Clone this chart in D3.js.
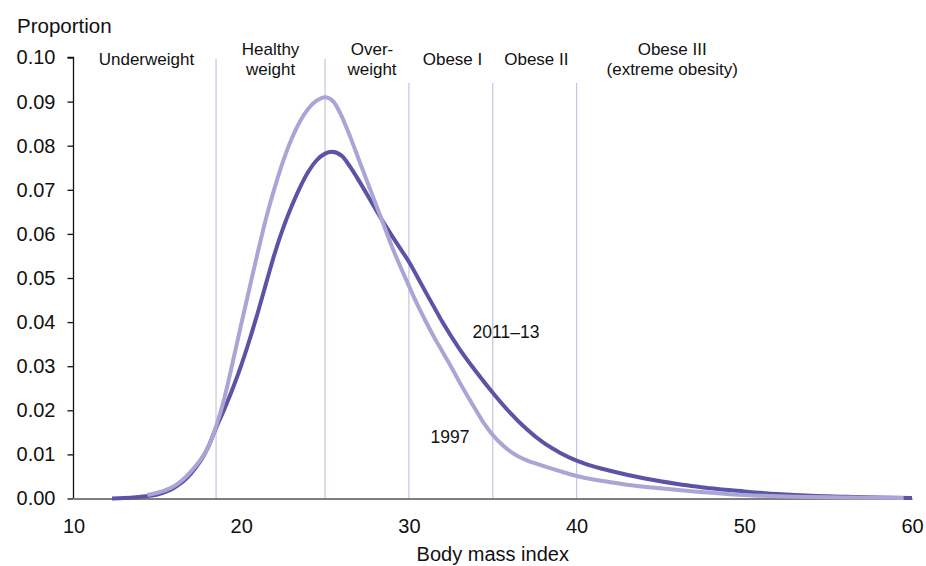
<!DOCTYPE html>
<html><head><meta charset="utf-8">
<script src="https://cdn.jsdelivr.net/npm/d3@7"></script>
<style>body{margin:0;background:#fff;}svg text{font-family:"Liberation Sans",Arial,sans-serif;fill:#111;}</style>
</head><body><svg id="c" width="926" height="566"></svg>
<script>
const bmi2013 = [12.3,13,14.3,15,16,17,18,18.5,19,19.5,20,20.5,21,21.5,22,22.5,23,23.5,24,24.5,25,25.4,26,26.5,27,27.5,28,28.5,29,29.5,30,30.5,31,31.5,32,33,34,35,36,37,38,39,40,41,42,43,44,45,46,47,48,50,52,54,56,58,60];
const val2013 = [0,0.0001,0.0005,0.0009,0.0024,0.0056,0.0114,0.0160,0.0203,0.0250,0.0302,0.0360,0.0423,0.0490,0.0556,0.0613,0.0662,0.0705,0.0741,0.0767,0.0782,0.0786,0.0777,0.0752,0.0722,0.0690,0.0657,0.0625,0.0595,0.0566,0.0537,0.0503,0.0468,0.0434,0.0400,0.0340,0.0288,0.0240,0.0196,0.0158,0.0127,0.0104,0.0086,0.0073,0.0063,0.0054,0.0046,0.0039,0.0033,0.0028,0.0023,0.0016,0.0010,0.0006,0.0004,0.0002,0.0001];
const bmi1997 = [14.4,15,15.5,16,16.5,17,17.5,18,18.5,19,19.5,20,20.5,21,21.5,22,22.5,23,23.5,24,24.5,25,25.5,26,26.5,27,27.5,28,28.5,29,29.5,30,30.5,31,31.5,32,32.5,33,33.5,34,34.5,35,35.5,36,36.5,37,38,39,40,41,42,43,45,47,50,53,56,59.5];
const val1997 = [0.0008,0.0013,0.0019,0.0028,0.0042,0.0061,0.0084,0.0114,0.0163,0.0228,0.0310,0.0395,0.0478,0.0560,0.0638,0.0705,0.0765,0.0815,0.0855,0.0884,0.0902,0.0910,0.0900,0.0866,0.0820,0.0770,0.0720,0.0670,0.0620,0.0570,0.0525,0.0482,0.0440,0.0402,0.0366,0.0333,0.0300,0.0265,0.0232,0.0200,0.0169,0.0144,0.0124,0.0108,0.0096,0.0087,0.0074,0.0062,0.0051,0.0043,0.0037,0.0031,0.0023,0.0016,0.0008,0.0004,0.0002,0.0001];
const yTicks = [0,0.01,0.02,0.03,0.04,0.05,0.06,0.07,0.08,0.09,0.10];
const xTicks = [10,20,30,40,50,60];
const cutoffs = [18.5,25,30,35,40];
const cutoffTall = [true,true,false,false,false];
const catLabels = [["Underweight"],["Healthy","weight"],["Over-","weight"],["Obese I"],["Obese II"],["Obese III","(extreme obesity)"]];
const catCenters = [14.35,21.75,27.8,32.6,37.6,45.7];

const svg = d3.select("#c");
const x = d3.scaleLinear().domain([10,60]).range([73.5,912]);
const y = d3.scaleLinear().domain([0,0.10]).range([498.5,57.5]);

// reference lines
svg.selectAll("line.ref").data(cutoffs).enter().append("line")
  .attr("x1",d=>x(d)).attr("x2",d=>x(d))
  .attr("y1",(d,i)=>cutoffTall[i]?59:83).attr("y2",y(0))
  .attr("stroke","#c6c4e0").attr("stroke-width",1.2);

// category labels
catLabels.forEach((lines,i)=>{
  const t = svg.append("text").attr("text-anchor","middle").style("font-size","17px");
  const base = lines.length===1 ? 65 : 55;
  lines.forEach((s,j)=>t.append("tspan").attr("x",x(catCenters[i])).attr("y",base+j*20).text(s));
});

// axes
const yAxis = d3.axisLeft(y).tickValues(yTicks).tickFormat(d3.format(".2f")).tickSize(6).tickPadding(12);
const gy = svg.append("g").attr("transform","translate(73.5,0)").call(yAxis);
gy.select(".domain").attr("stroke","#111").attr("stroke-width",1.3).attr("d","M-6,57.5H0V498.5");
gy.selectAll(".tick line").attr("stroke","#111").attr("stroke-width",1.3);
gy.selectAll(".tick text").style("font-size","20px").attr("font-family","Liberation Sans, Arial, sans-serif").attr("fill","#111");

const xAxis = d3.axisBottom(x).tickValues(xTicks).tickSize(0).tickPadding(20);
const gx = svg.append("g").attr("transform","translate(0,498.5)").call(xAxis);
gx.select(".domain").attr("stroke","#555").attr("stroke-width",1.5);
gx.selectAll(".tick text").style("font-size","20px").attr("font-family","Liberation Sans, Arial, sans-serif").attr("fill","#111");

// curves
const line = d3.line().x(d=>x(d[0])).y(d=>y(d[1])).curve(d3.curveMonotoneX);
const d1997 = bmi1997.map((b,i)=>[b,val1997[i]]);
const d2013 = bmi2013.map((b,i)=>[b,val2013[i]]);
svg.append("path").attr("d",line(d2013)).attr("fill","none").attr("stroke","#5b53a6").attr("stroke-width",4).attr("stroke-linecap","butt");
svg.append("path").attr("d",line(d1997)).attr("fill","none").attr("stroke","#a9a6d6").attr("stroke-width",4).attr("stroke-linecap","butt");

// series labels
svg.append("text").attr("x",506).attr("y",338).attr("text-anchor","middle").style("font-size","17.5px").text("2011–13");
svg.append("text").attr("x",450).attr("y",443).attr("text-anchor","middle").style("font-size","17.5px").text("1997");

// titles
svg.append("text").attr("x",17).attr("y",33).style("font-size","20.5px").text("Proportion");
svg.append("text").attr("x",x(35)).attr("y",561).attr("text-anchor","middle").style("font-size","20px").text("Body mass index");
</script></body></html>
